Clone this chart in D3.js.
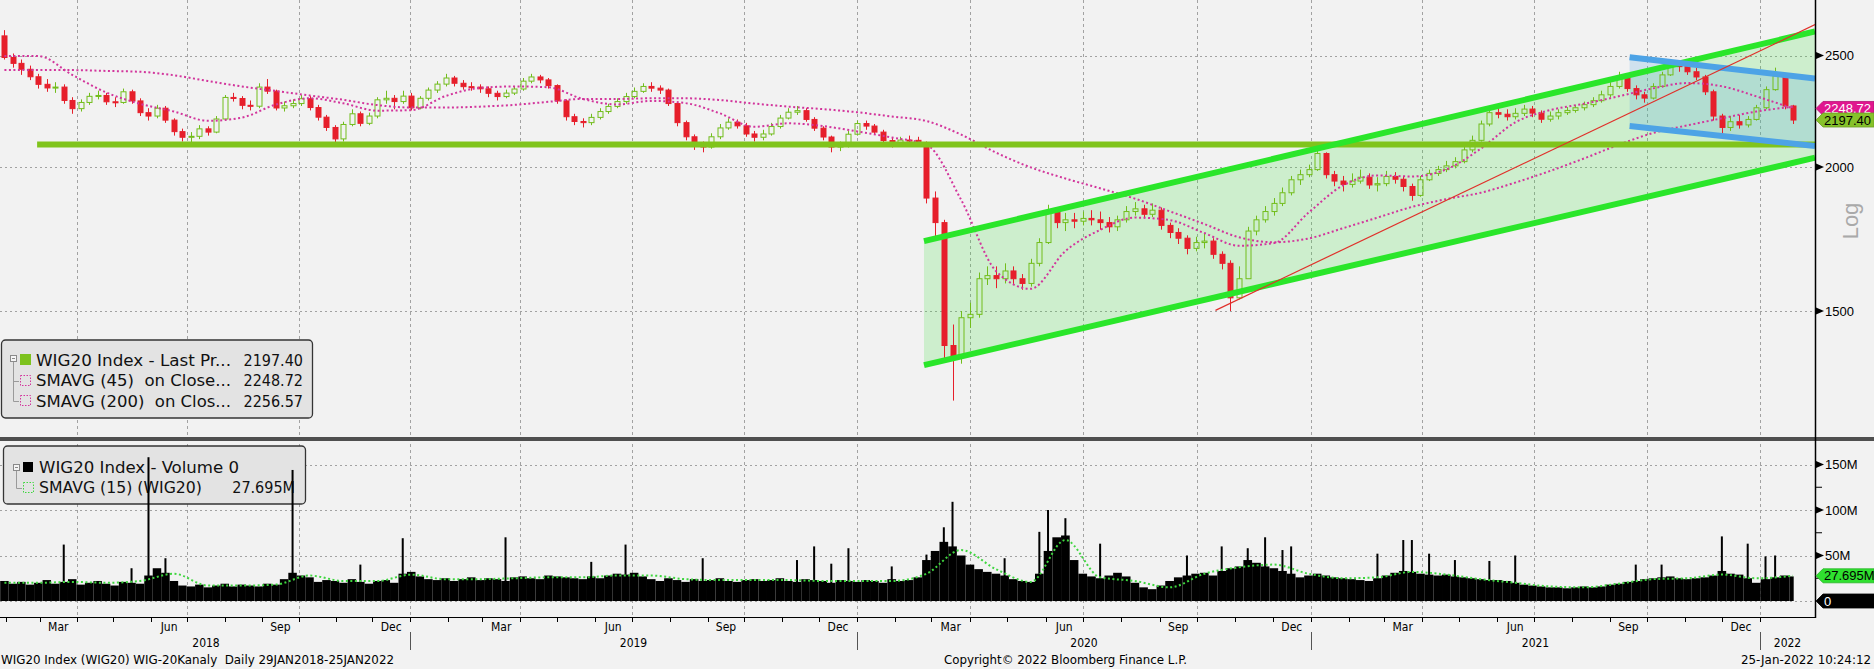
<!DOCTYPE html>
<html>
<head>
<meta charset="utf-8">
<script src="https://cdn.jsdelivr.net/npm/d3@7/dist/d3.min.js"></script>
<style>
html,body{margin:0;padding:0;background:#f2f2f2;}
svg{display:block;}
text{white-space:pre;}
</style>
</head>
<body>
<svg id="chart" width="1874" height="669"></svg>
<script>
// ================= DATA =================
const firstWeek = "2018-01-29";     // Monday of first weekly bar
const lastSession = "2022-01-25";
const firstOpen = 2600;

// weekly closes (WIG20, log scale)
const weeklyClose = [
 2490,2461,2432,2396,2360,2343,2347,2285,2248,2276,2304,2308,2279,2276,2325,2283,2230,2215,2250,2197,
 2147,2123,2127,2159,2145,2202,2299,2294,2263,2259,2347,2328,2251,2261,2271,2293,2253,2210,2165,2116,
 2178,2225,2183,2215,2288,2295,2280,2305,
 2252,2295,2333,2361,2390,2365,2349,2347,2339,2318,2303,2319,2338,2375,2395,2381,2354,2283,2212,2191,
 2186,2209,2235,2258,2280,2303,2327,2350,2342,2333,2271,2186,2125,2089,2082,2125,2163,2188,2172,2137,
 2123,2137,2169,2206,2232,2239,2200,2162,2124,2082,2086,2136,
 2182,2171,2145,2109,2097,2111,2110,2100,1880,1790,1400,1370,1480,1490,1600,1610,1600,1625,1600,1585,
 1650,1720,1830,1790,1800,1795,1805,1800,1790,1775,1800,1830,1840,1820,1835,1780,1755,1735,1700,1720,
 1725,1680,1650,1540,1600,1760,1800,1830,1860,1900,1950,1970,1990,
 2055,1970,1945,1932,1945,1960,1930,1935,1963,1952,1924,1890,1950,1975,1990,2005,2022,2070,2110,2180,
 2230,2223,2212,2227,2246,2228,2201,2215,2230,2240,2252,2266,2284,2311,2350,2390,2340,2311,2296,2350,
 2405,2450,2445,2420,2395,2325,2215,2165,2190,2176,2200,2252,
 2335,2400,2260,2197.40
];
const weeklyHigh = [
 2630,2510,2480,2450,2410,2385,2370,2360,2300,2290,2320,2330,2320,2300,2340,2335,2295,2250,2265,2260,
 2205,2160,2145,2175,2170,2215,2310,2320,2305,2285,2365,2385,2335,2280,2290,2310,2305,2265,2220,2175,
 2190,2245,2235,2230,2300,2330,2310,2330,
 2320,2305,2345,2375,2410,2400,2380,2370,2360,2350,2330,2335,2350,2390,2410,2405,2390,2360,2290,2225,
 2205,2225,2250,2270,2295,2320,2345,2365,2370,2355,2340,2280,2195,2135,2105,2140,2180,2205,2200,2185,
 2150,2155,2185,2220,2250,2260,2250,2210,2170,2130,2105,2150,
 2195,2195,2180,2155,2120,2125,2130,2125,2105,1905,1800,1460,1500,1525,1620,1640,1640,1650,1640,1615,
 1665,1735,1855,1845,1825,1825,1830,1835,1830,1810,1815,1850,1865,1855,1860,1845,1790,1770,1745,1740,
 1750,1735,1690,1660,1640,1775,1815,1850,1880,1920,1965,1990,2010,
 2075,2060,1985,1965,1975,1990,1975,1960,1985,1980,1965,1935,1965,1990,2005,2025,2040,2085,2130,2195,
 2250,2255,2245,2250,2265,2260,2240,2235,2245,2255,2265,2280,2300,2330,2370,2420,2400,2355,2325,2365,
 2420,2470,2470,2460,2440,2405,2335,2225,2215,2220,2215,2265,
 2350,2440,2405,2265
];
const weeklyLow = [
 2480,2440,2405,2380,2340,2325,2320,2270,2225,2235,2265,2290,2265,2255,2270,2270,2215,2195,2205,2185,
 2130,2105,2095,2115,2130,2140,2195,2280,2245,2240,2250,2315,2240,2235,2250,2260,2240,2195,2150,2095,
 2105,2170,2170,2175,2205,2270,2245,2270,
 2240,2245,2285,2320,2350,2350,2335,2330,2320,2300,2285,2295,2310,2330,2365,2365,2340,2270,2195,2175,
 2165,2175,2200,2225,2250,2270,2295,2320,2325,2315,2260,2170,2110,2070,2060,2075,2115,2155,2160,2125,
 2105,2110,2130,2160,2200,2220,2190,2150,2110,2060,2065,2080,
 2130,2155,2135,2095,2080,2090,2095,2085,1860,1730,1360,1254,1350,1450,1480,1580,1570,1585,1580,1565,
 1575,1640,1715,1770,1760,1770,1780,1780,1765,1755,1760,1790,1815,1805,1810,1765,1735,1715,1680,1690,
 1700,1665,1630,1500,1535,1600,1745,1790,1815,1850,1890,1930,1960,
 1985,1955,1925,1905,1920,1935,1915,1905,1925,1935,1905,1870,1885,1945,1965,1980,1995,2015,2060,2105,
 2170,2205,2195,2200,2215,2210,2185,2190,2200,2220,2230,2240,2255,2275,2300,2340,2325,2290,2275,2290,
 2345,2400,2420,2405,2380,2310,2195,2140,2150,2160,2165,2195,
 2245,2330,2245,2180
];
// weekly average daily volume, millions
const weeklyVolume = [
 22,19,21,18,20,23,19,21,24,18,20,22,19,17,21,20,19,28,36,31,22,17,16,18,15,17,19,16,18,17,
 16,19,18,24,31,28,26,21,23,22,20,24,21,19,22,23,20,30,
 32,27,24,23,25,22,24,26,23,25,24,22,26,27,25,24,28,27,26,25,24,27,25,28,30,29,31,27,24,22,
 25,23,21,24,22,23,25,22,21,23,24,22,23,25,22,21,24,23,22,20,23,22,
 21,23,22,20,24,22,23,26,45,55,65,60,50,40,35,32,30,28,24,22,21,30,55,70,72,45,30,27,25,28,
 31,27,20,15,13,17,22,26,28,30,31,28,33,36,38,45,42,38,36,33,30,26,28,
 30,28,26,25,24,23,22,25,28,31,33,32,30,29,28,29,27,26,25,24,23,23,22,20,18,17,16,15,15,14,
 15,16,15,16,18,19,21,22,24,25,26,27,25,24,25,26,28,33,30,29,25,20,
 24,26,28,27
];
// single-day volume spikes: [week index, millions]
const volumeSpikes = [
 [7,62],[15,36],[17,158],[19,47],[34,144],[42,40],[47,69],[59,70],[69,43],[73,62],[82,47],[93,45],
 [95,60],[97,41],[99,58],[104,38],[108,51],[110,81],[111,109],[117,47],[121,76],[122,100],[124,91],
 [128,63],[138,50],[142,60],[145,58],[147,70],[149,56],[150,60],[160,52],[163,67],[164,67],[166,52],
 [169,45],[173,44],[176,50],[190,40],[193,40],[200,71],[203,63],[205,49],[206,50]
];
// moving averages read every 4 weeks
const sma45 = [2498,2497,2405,2322,2270,2235,2194,2208,2266,2295,2272,2239,2241,2305,2343,2350,2346,2292,
 2267,2283,2273,2227,2168,2183,2171,2148,2122,2092,1873,1625,1568,1691,1764,1808,1799,1753,1709,1718,
 1826,1928,1967,1963,1991,2075,2187,2241,2270,2304,2341,2366,2351,2304,2248.72];
const sma200 = [2428,2428,2428,2424,2420,2403,2376,2350,2329,2308,2288,2264,2253,2253,2257,2265,2279,2292,
 2292,2295,2295,2287,2271,2257,2246,2232,2213,2193,2134,2059,1999,1955,1917,1878,1831,1785,1738,1721,
 1734,1770,1808,1847,1876,1900,1939,1984,2035,2091,2141,2174,2205,2235,2256.57];
const volumeSma15 = [20,20,21,20,22,30,17,17,18,28,22,22,29,24,24,25,26,26,28,28,24,23,23,23,22,22,22,
 30,56,35,21,67,26,22,15,30,37,40,30,25,26,32,29,24,20,16,15,19,24,25,29,25,27.695];

const priceTicks = [1500, 2000, 2500];
const volumeTicks = [0, 50, 100, 150];
const volumeMinorTicks = [25, 75, 125];
const monthLabels = ["Mar", "Jun", "Sep", "Dec"];
const yearStarts = ["2018-01-29", "2019-01-01", "2020-01-01", "2021-01-01", "2022-01-01"];
const yearLabels = ["2018", "2019", "2020", "2021", "2022"];

// drawn annotations
const supportLevel = {from: "2018-02-27", to: "2022-02-10", value: 2092};
const greenChannel = {from: "2020-02-24", to: "2022-02-10", upper: [1725, 2623], lower: [1346, 2038]};
const blueChannel = {from: "2021-09-17", to: "2022-02-10", upper: [2491, 2388], lower: [2171, 2086]};
const trendLine = {from: "2020-10-16", to: "2022-02-10", values: [1502, 2659]};

const lastValues = {price: "2197.40", sma45: "2248.72", sma200: "2256.57", volume: "0", volumeSma: "27.695M"};
const legendMain = [
  {label: "WIG20 Index - Last Pr...", value: "2197.40"},
  {label: "SMAVG (45)  on Close...", value: "2248.72"},
  {label: "SMAVG (200)  on Clos...", value: "2256.57"}
];
const legendVolume = [
  {label: "WIG20 Index - Volume 0", value: ""},
  {label: "SMAVG (15) (WIG20)", value: "27.695M"}
];
const footerLeft = "WIG20 Index (WIG20) WIG-20Kanaly  Daily 29JAN2018-25JAN2022";
const footerMid = "Copyright\u00A9 2022 Bloomberg Finance L.P.";
const footerRight = "25-Jan-2022 10:24:12";

// ================= LAYOUT / STYLE =================
const W = 1874, H = 669;
const axisX = 1815;
const mainBottom = 437, volTop = 441, volBottom = 617;
const C = {
  bg: "#f2f2f2", grid: "#a2a2a2", up: "#72bd1c", down: "#e61f2b", ma: "#d2359c",
  support: "#80c41c", channel: "#2ae62a", channelFill: "rgba(60,225,60,0.20)",
  blue: "#4da3e6", blueFill: "rgba(80,165,225,0.22)", trend: "#e0302a", volSma: "#3fd63f"
};
const narrow = "'DejaVu Sans Condensed','DejaVu Sans',sans-serif";
const sans = "'Liberation Sans',Arial,sans-serif";

const parse = d3.timeParse("%Y-%m-%d");
const x = d3.scaleTime()
  .domain([firstWeek, "2019-01-01", "2020-01-01", "2021-01-01", "2022-01-01", lastSession].map(parse))
  .range([2, 410, 857, 1311, 1760, 1793]);
const y = d3.scaleLog().domain([1500, 2500]).range([311, 55.5]);
const yv = d3.scaleLinear().domain([0, 150]).range([601, 464.5]);

const start = parse(firstWeek), lastDay = parse(lastSession);
const DAY = 864e5;
const weekDate = i => { const d = new Date(start.getTime() + (7 * i + 2) * DAY); return d > lastDay ? lastDay : d; };
const dayShift = (d, n) => new Date(d.getTime() + n * DAY);

const svg = d3.select("#chart");
svg.append("rect").attr("width", W).attr("height", H).attr("fill", C.bg);

const defs = svg.append("defs");
defs.append("clipPath").attr("id", "clipMain").append("rect")
  .attr("x", 0).attr("y", 0).attr("width", axisX).attr("height", mainBottom);
defs.append("clipPath").attr("id", "clipVol").append("rect")
  .attr("x", 0).attr("y", volTop).attr("width", axisX).attr("height", volBottom - volTop);

// ---------- grid ----------
const months = d3.timeMonth.range(parse("2018-02-01"), parse("2022-02-01"));
const quarters = months.filter(d => d.getMonth() % 3 === 0);
const grid = svg.append("g");
grid.selectAll("line.vg").data(quarters).join("line")
  .attr("x1", d => Math.round(x(d)) + 0.5).attr("x2", d => Math.round(x(d)) + 0.5)
  .attr("y1", 0).attr("y2", volBottom)
  .attr("stroke", C.grid).attr("stroke-dasharray", "3,3");
grid.selectAll("line.hg").data(priceTicks).join("line")
  .attr("x1", 0).attr("x2", axisX).attr("y1", d => Math.round(y(d)) + 0.5).attr("y2", d => Math.round(y(d)) + 0.5)
  .attr("stroke", C.grid).attr("stroke-dasharray", "2,3");
grid.selectAll("line.vhg").data(volumeTicks).join("line")
  .attr("x1", 0).attr("x2", axisX).attr("y1", d => Math.round(yv(d)) + 0.5).attr("y2", d => Math.round(yv(d)) + 0.5)
  .attr("stroke", C.grid).attr("stroke-dasharray", "2,3");

// ---------- main panel ----------
const main = svg.append("g").attr("clip-path", "url(#clipMain)");

function channelPoly(ch) {
  const a = parse(ch.from), b = parse(ch.to);
  return [[x(a), y(ch.upper[0])], [x(b), y(ch.upper[1])], [x(b), y(ch.lower[1])], [x(a), y(ch.lower[0])]];
}
main.append("polygon").attr("points", channelPoly(greenChannel).join(" ")).attr("fill", C.channelFill);
main.append("polygon").attr("points", channelPoly(blueChannel).join(" ")).attr("fill", C.blueFill);

// candles
const candles = weeklyClose.map((c, i) => ({
  date: weekDate(i), o: i ? weeklyClose[i - 1] : firstOpen, c, h: weeklyHigh[i], l: weeklyLow[i]
}));
const gC = main.append("g");
candles.forEach(d => {
  const cx = Math.round(x(d.date)) + 0.5;
  const upC = d.c >= d.o;
  const col = upC ? C.up : C.down;
  const top = y(Math.max(d.o, d.c)), bot = y(Math.min(d.o, d.c));
  gC.append("line").attr("x1", cx).attr("x2", cx).attr("y1", y(d.h)).attr("y2", top).attr("stroke", col);
  gC.append("line").attr("x1", cx).attr("x2", cx).attr("y1", bot).attr("y2", y(d.l)).attr("stroke", col);
  gC.append("rect").attr("x", cx - 2.5).attr("width", 5)
    .attr("y", top).attr("height", Math.max(1, bot - top))
    .attr("fill", upC ? "none" : col).attr("stroke", col).attr("stroke-width", 1);
});

// moving averages
const maLine = d3.line().x(d => x(d.date)).y(d => y(d.v)).curve(d3.curveMonotoneX);
[sma200, sma45].forEach(arr => {
  main.append("path").datum(arr.map((v, k) => ({date: weekDate(4 * k), v})))
    .attr("d", maLine).attr("fill", "none").attr("stroke", C.ma)
    .attr("stroke-width", 2).attr("stroke-dasharray", "2,2.5");
});

// annotation lines
function seg(from, to, v0, v1) { return [[x(parse(from)), y(v0)], [x(parse(to)), y(v1)]]; }
const lineGen = d3.line();
main.append("path").attr("d", lineGen(seg(supportLevel.from, supportLevel.to, supportLevel.value, supportLevel.value)))
  .attr("stroke", C.support).attr("stroke-width", 6).attr("fill", "none");
[greenChannel.upper, greenChannel.lower].forEach(v => {
  main.append("path").attr("d", lineGen(seg(greenChannel.from, greenChannel.to, v[0], v[1])))
    .attr("stroke", C.channel).attr("stroke-width", 6).attr("fill", "none");
});
[blueChannel.upper, blueChannel.lower].forEach(v => {
  main.append("path").attr("d", lineGen(seg(blueChannel.from, blueChannel.to, v[0], v[1])))
    .attr("stroke", C.blue).attr("stroke-width", 6).attr("fill", "none");
});
main.append("path").attr("d", lineGen(seg(trendLine.from, trendLine.to, trendLine.values[0], trendLine.values[1])))
  .attr("stroke", C.trend).attr("stroke-width", 1.2).attr("fill", "none");

// main legend
const lg = svg.append("g");
lg.append("rect").attr("x", 1.5).attr("y", 340).attr("width", 311).attr("height", 78).attr("rx", 4)
  .attr("fill", "#e3e3e3").attr("stroke", "#353535").attr("stroke-width", 1.3);
lg.append("rect").attr("x", 10.5).attr("y", 355.5).attr("width", 6).attr("height", 6).attr("fill", "#f5f5f5").attr("stroke", "#8a8a8a");
lg.append("line").attr("x1", 12).attr("x2", 15).attr("y1", 358.5).attr("y2", 358.5).attr("stroke", "#8a8a8a");
lg.append("path").attr("d", "M13.5,362 V401.5 M13.5,381.5 H19 M13.5,401.5 H19").attr("stroke", "#9a9a9a").attr("fill", "none");
lg.append("rect").attr("x", 20).attr("y", 354).attr("width", 11).attr("height", 11).attr("fill", "#7dc21e");
[375, 395].forEach(yy => lg.append("rect").attr("x", 20.5).attr("y", yy + 0.5).attr("width", 10).attr("height", 10)
  .attr("fill", "none").attr("stroke", C.ma).attr("stroke-dasharray", "1.5,1.5"));
legendMain.forEach((r, k) => {
  const by = 366 + k * 20.3;
  lg.append("text").attr("x", 36).attr("y", by).text(r.label)
    .attr("font-family", narrow).attr("font-size", 16).attr("fill", "#111")
    .attr("textLength", 195).attr("lengthAdjust", "spacingAndGlyphs");
  lg.append("text").attr("x", 303).attr("y", by).attr("text-anchor", "end").text(r.value)
    .attr("font-family", narrow).attr("font-size", 16).attr("fill", "#111");
});

// ---------- volume panel ----------
const vol = svg.append("g").attr("clip-path", "url(#clipVol)");
const vl = vol.append("g");
vl.append("rect").attr("x", 3.5).attr("y", 446).attr("width", 302).attr("height", 58).attr("rx", 4)
  .attr("fill", "#e3e3e3").attr("stroke", "#353535").attr("stroke-width", 1.3);
vl.append("rect").attr("x", 13.5).attr("y", 464.5).attr("width", 6).attr("height", 6).attr("fill", "#f5f5f5").attr("stroke", "#8a8a8a");
vl.append("line").attr("x1", 15).attr("x2", 18).attr("y1", 467.5).attr("y2", 467.5).attr("stroke", "#8a8a8a");
vl.append("path").attr("d", "M16.5,471 V488.5 H22").attr("stroke", "#9a9a9a").attr("fill", "none");
vl.append("rect").attr("x", 23).attr("y", 462).attr("width", 10).attr("height", 10).attr("fill", "#000");
vl.append("rect").attr("x", 23.5).attr("y", 482.5).attr("width", 10).attr("height", 10)
  .attr("fill", "none").attr("stroke", C.volSma).attr("stroke-dasharray", "1.5,1.5");
vl.append("text").attr("x", 39).attr("y", 472.5).text(legendVolume[0].label)
  .attr("font-family", narrow).attr("font-size", 16).attr("fill", "#111")
  .attr("textLength", 200).attr("lengthAdjust", "spacingAndGlyphs");
vl.append("text").attr("x", 39).attr("y", 493).text(legendVolume[1].label)
  .attr("font-family", narrow).attr("font-size", 16).attr("fill", "#111")
  .attr("textLength", 163).attr("lengthAdjust", "spacingAndGlyphs");
vl.append("text").attr("x", 295).attr("y", 493).attr("text-anchor", "end").text(legendVolume[1].value)
  .attr("font-family", narrow).attr("font-size", 16).attr("fill", "#111");

vol.selectAll("rect.vb").data(weeklyVolume).join("rect").attr("class", "vb")
  .attr("x", (v, i) => x(dayShift(start, 7 * i - 1.5)))
  .attr("width", (v, i) => Math.max(1, x(d3.min([dayShift(start, 7 * i + 5.5), dayShift(lastDay, 0.5)])) - x(dayShift(start, 7 * i - 1.5))))
  .attr("y", v => yv(v)).attr("height", v => yv(0) - yv(v)).attr("fill", "#000");
vol.selectAll("rect.vs").data(volumeSpikes).join("rect").attr("class", "vs")
  .attr("x", d => x(weekDate(d[0])) - 1).attr("width", 2)
  .attr("y", d => yv(d[1])).attr("height", d => yv(0) - yv(d[1])).attr("fill", "#000");
vol.append("path").datum(volumeSma15.map((v, k) => ({date: weekDate(4 * k), v})))
  .attr("d", d3.line().x(d => x(d.date)).y(d => yv(d.v)).curve(d3.curveMonotoneX))
  .attr("fill", "none").attr("stroke", C.volSma).attr("stroke-width", 2).attr("stroke-dasharray", "2,2.5");

// ---------- separators & axes ----------
svg.append("rect").attr("x", 0).attr("y", mainBottom).attr("width", W).attr("height", 4).attr("fill", "#4f4f4f");
svg.append("line").attr("x1", axisX + 0.5).attr("x2", axisX + 0.5).attr("y1", 0).attr("y2", volBottom + 1)
  .attr("stroke", "#000").attr("stroke-width", 1.5);
svg.append("line").attr("x1", 0).attr("x2", axisX).attr("y1", volBottom + 0.5).attr("y2", volBottom + 0.5)
  .attr("stroke", "#000").attr("stroke-width", 1.2);

const ax = svg.append("g");
const tri = yy => `M${axisX + 1},${yy - 3.5} L${axisX + 9},${yy} L${axisX + 1},${yy + 3.5} Z`;
priceTicks.forEach(t => {
  const yy = y(t);
  ax.append("path").attr("d", tri(yy)).attr("fill", "#000");
  ax.append("text").attr("x", axisX + 10).attr("y", yy + 4.5).text(d3.format("d")(t))
    .attr("font-family", sans).attr("font-size", 13).attr("fill", "#000");
});
volumeTicks.filter(t => t > 0).forEach(t => {
  const yy = yv(t);
  ax.append("path").attr("d", tri(yy)).attr("fill", "#000");
  ax.append("text").attr("x", axisX + 10).attr("y", yy + 4.5).text(t + "M")
    .attr("font-family", sans).attr("font-size", 13).attr("fill", "#000");
});
volumeMinorTicks.forEach(t => {
  ax.append("line").attr("x1", axisX).attr("x2", axisX + 7).attr("y1", yv(t)).attr("y2", yv(t)).attr("stroke", "#000");
});
ax.append("text").attr("transform", "translate(1858,221) rotate(-90)").attr("text-anchor", "middle")
  .text("Log").attr("font-family", sans).attr("font-size", 22).attr("fill", "#a9a9a9");

function tag(yc, fill, color, label) {
  const h = 14;
  ax.append("path")
    .attr("d", `M${axisX + 1},${yc} L${axisX + 8},${yc - h / 2} L${W},${yc - h / 2} L${W},${yc + h / 2} L${axisX + 8},${yc + h / 2} Z`)
    .attr("fill", fill).attr("stroke", d3.color(fill).darker(0.6)).attr("stroke-width", 0.8);
  const t = ax.append("text").attr("x", axisX + 9).attr("y", yc + 4.5).text(label)
    .attr("font-family", sans).attr("font-size", label.length > 7 ? 12 : 13).attr("fill", color);
  if (label.length > 7) t.attr("textLength", 45).attr("lengthAdjust", "spacingAndGlyphs");
}
tag(y(+lastValues.sma45), "#e0178f", "#fff", lastValues.sma45);
tag(y(+lastValues.price), "#86c22a", "#000", lastValues.price);
tag(yv(parseFloat(lastValues.volumeSma)), "#2fe02f", "#000", lastValues.volumeSma);
tag(yv(+lastValues.volume), "#000", "#fff", lastValues.volume);

// bottom time axis
const bx = svg.append("g");
bx.selectAll("line.mt").data(months).join("line")
  .attr("x1", d => Math.round(x(d)) + 0.5).attr("x2", d => Math.round(x(d)) + 0.5)
  .attr("y1", volBottom).attr("y2", volBottom + 5).attr("stroke", "#000");
const fmtMon = d3.timeFormat("%b");
bx.selectAll("text.ml").data(months.filter(d => monthLabels.includes(fmtMon(d)))).join("text")
  .attr("x", d => x(new Date((d.getTime() + d3.timeMonth.offset(d, 1).getTime()) / 2)))
  .attr("y", 631).attr("text-anchor", "middle").text(fmtMon)
  .attr("font-family", narrow).attr("font-size", 12).attr("fill", "#000");
yearStarts.forEach((s, k) => {
  const x0 = Math.max(2, x(parse(s)));
  const x1 = k < yearStarts.length - 1 ? x(parse(yearStarts[k + 1])) : axisX;
  bx.append("text").attr("x", (x0 + x1) / 2).attr("y", 647).attr("text-anchor", "middle").text(yearLabels[k])
    .attr("font-family", narrow).attr("font-size", 12).attr("fill", "#000");
  if (k > 0) bx.append("line").attr("x1", Math.round(x0) + 0.5).attr("x2", Math.round(x0) + 0.5)
    .attr("y1", 632).attr("y2", 650).attr("stroke", "#555");
});

// footer
bx.append("text").attr("x", 1).attr("y", 664).text(footerLeft)
  .attr("font-family", narrow).attr("font-size", 12).attr("fill", "#000")
  .attr("textLength", 393).attr("lengthAdjust", "spacingAndGlyphs");
bx.append("text").attr("x", 944).attr("y", 664).text(footerMid)
  .attr("font-family", narrow).attr("font-size", 12).attr("fill", "#000")
  .attr("textLength", 243).attr("lengthAdjust", "spacingAndGlyphs");
bx.append("text").attr("x", 1741).attr("y", 664).text(footerRight)
  .attr("font-family", narrow).attr("font-size", 12).attr("fill", "#000")
  .attr("textLength", 130).attr("lengthAdjust", "spacingAndGlyphs");
</script>
</body>
</html>
